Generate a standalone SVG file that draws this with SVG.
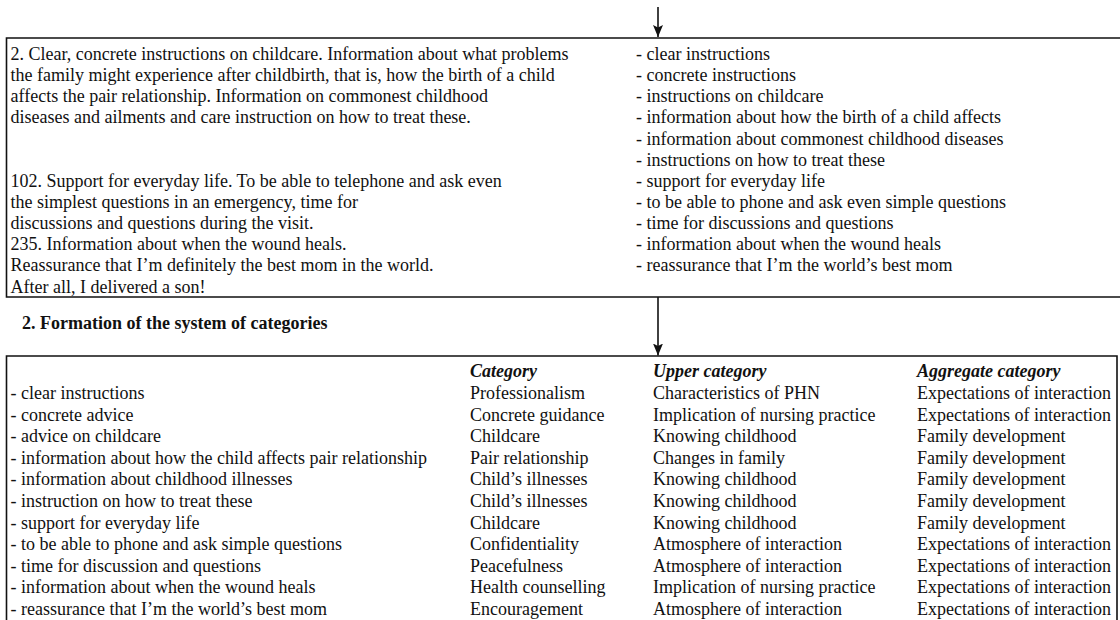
<svg xmlns="http://www.w3.org/2000/svg" width="1120" height="620" viewBox="0 0 1120 620">
<style>
text{font-family:"Liberation Serif","Times New Roman",serif;font-size:18px;fill:#111}
.hd{font-weight:bold;font-style:italic}
.bd{font-weight:bold}
.ln{stroke:#111;stroke-width:1.6;fill:none}
</style>
<defs>
<marker id="ah" viewBox="0 0 12 10" refX="12" refY="5" markerWidth="12" markerHeight="10" markerUnits="userSpaceOnUse" orient="auto">
<path d="M0,0 L12,5 L0,10 L2.5,5 Z" fill="#111"/>
</marker>
</defs>
<g id="connectors">
<line class="ln" x1="658" y1="7" x2="658" y2="37" marker-end="url(#ah)"/>
<line class="ln" x1="658" y1="297" x2="658" y2="355.5" marker-end="url(#ah)"/>
</g>
<g id="raw-data">
<path class="ln" d="M1121,38 H6.5 V297 H1121"/>
<text x="10.5" y="60">2. Clear, concrete instructions on childcare. Information about what problems</text>
<text x="10.5" y="81">the family might experience after childbirth, that is, how the birth of a child</text>
<text x="10.5" y="102">affects the pair relationship. Information on commonest childhood</text>
<text x="10.5" y="123">diseases and ailments and care instruction on how to treat these.</text>
<text x="10.5" y="187">102. Support for everyday life. To be able to telephone and ask even</text>
<text x="10.5" y="208">the simplest questions in an emergency, time for</text>
<text x="10.5" y="229">discussions and questions during the visit.</text>
<text x="10.5" y="250">235. Information about when the wound heals.</text>
<text x="10.5" y="271">Reassurance that I’m definitely the best mom in the world.</text>
<text x="10.5" y="293">After all, I delivered a son!</text>
<text x="636" y="60">- clear instructions</text>
<text x="636" y="81">- concrete instructions</text>
<text x="636" y="102">- instructions on childcare</text>
<text x="636" y="123">- information about how the birth of a child affects</text>
<text x="636" y="145">- information about commonest childhood diseases</text>
<text x="636" y="166">- instructions on how to treat these</text>
<text x="636" y="187">- support for everyday life</text>
<text x="636" y="208">- to be able to phone and ask even simple questions</text>
<text x="636" y="229">- time for discussions and questions</text>
<text x="636" y="250">- information about when the wound heals</text>
<text x="636" y="271">- reassurance that I’m the world’s best mom</text>
</g>
<g id="title">
<text class="bd" x="22" y="329">2. Formation of the system of categories</text>
</g>
<g id="categories">
<path class="ln" d="M6.5,625 V356 H1117 V625"/>
<text class="hd" x="470" y="377">Category</text>
<text class="hd" x="653" y="377">Upper category</text>
<text class="hd" x="917" y="377">Aggregate category</text>
<g>
<text x="10.5" y="399">- clear instructions</text>
<text x="10.5" y="420.6">- concrete advice</text>
<text x="10.5" y="442.2">- advice on childcare</text>
<text x="10.5" y="463.8">- information about how the child affects pair relationship</text>
<text x="10.5" y="485.4">- information about childhood illnesses</text>
<text x="10.5" y="507">- instruction on how to treat these</text>
<text x="10.5" y="528.6">- support for everyday life</text>
<text x="10.5" y="550.2">- to be able to phone and ask simple questions</text>
<text x="10.5" y="571.8">- time for discussion and questions</text>
<text x="10.5" y="593.4">- information about when the wound heals</text>
<text x="10.5" y="615">- reassurance that I’m the world’s best mom</text>
</g>
<g>
<text x="470" y="399">Professionalism</text>
<text x="470" y="420.6">Concrete guidance</text>
<text x="470" y="442.2">Childcare</text>
<text x="470" y="463.8">Pair relationship</text>
<text x="470" y="485.4">Child’s illnesses</text>
<text x="470" y="507">Child’s illnesses</text>
<text x="470" y="528.6">Childcare</text>
<text x="470" y="550.2">Confidentiality</text>
<text x="470" y="571.8">Peacefulness</text>
<text x="470" y="593.4">Health counselling</text>
<text x="470" y="615">Encouragement</text>
</g>
<g>
<text x="653" y="399">Characteristics of PHN</text>
<text x="653" y="420.6">Implication of nursing practice</text>
<text x="653" y="442.2">Knowing childhood</text>
<text x="653" y="463.8">Changes in family</text>
<text x="653" y="485.4">Knowing childhood</text>
<text x="653" y="507">Knowing childhood</text>
<text x="653" y="528.6">Knowing childhood</text>
<text x="653" y="550.2">Atmosphere of interaction</text>
<text x="653" y="571.8">Atmosphere of interaction</text>
<text x="653" y="593.4">Implication of nursing practice</text>
<text x="653" y="615">Atmosphere of interaction</text>
</g>
<g>
<text x="917" y="399">Expectations of interaction</text>
<text x="917" y="420.6">Expectations of interaction</text>
<text x="917" y="442.2">Family development</text>
<text x="917" y="463.8">Family development</text>
<text x="917" y="485.4">Family development</text>
<text x="917" y="507">Family development</text>
<text x="917" y="528.6">Family development</text>
<text x="917" y="550.2">Expectations of interaction</text>
<text x="917" y="571.8">Expectations of interaction</text>
<text x="917" y="593.4">Expectations of interaction</text>
<text x="917" y="615">Expectations of interaction</text>
</g>
</g>
</svg>
